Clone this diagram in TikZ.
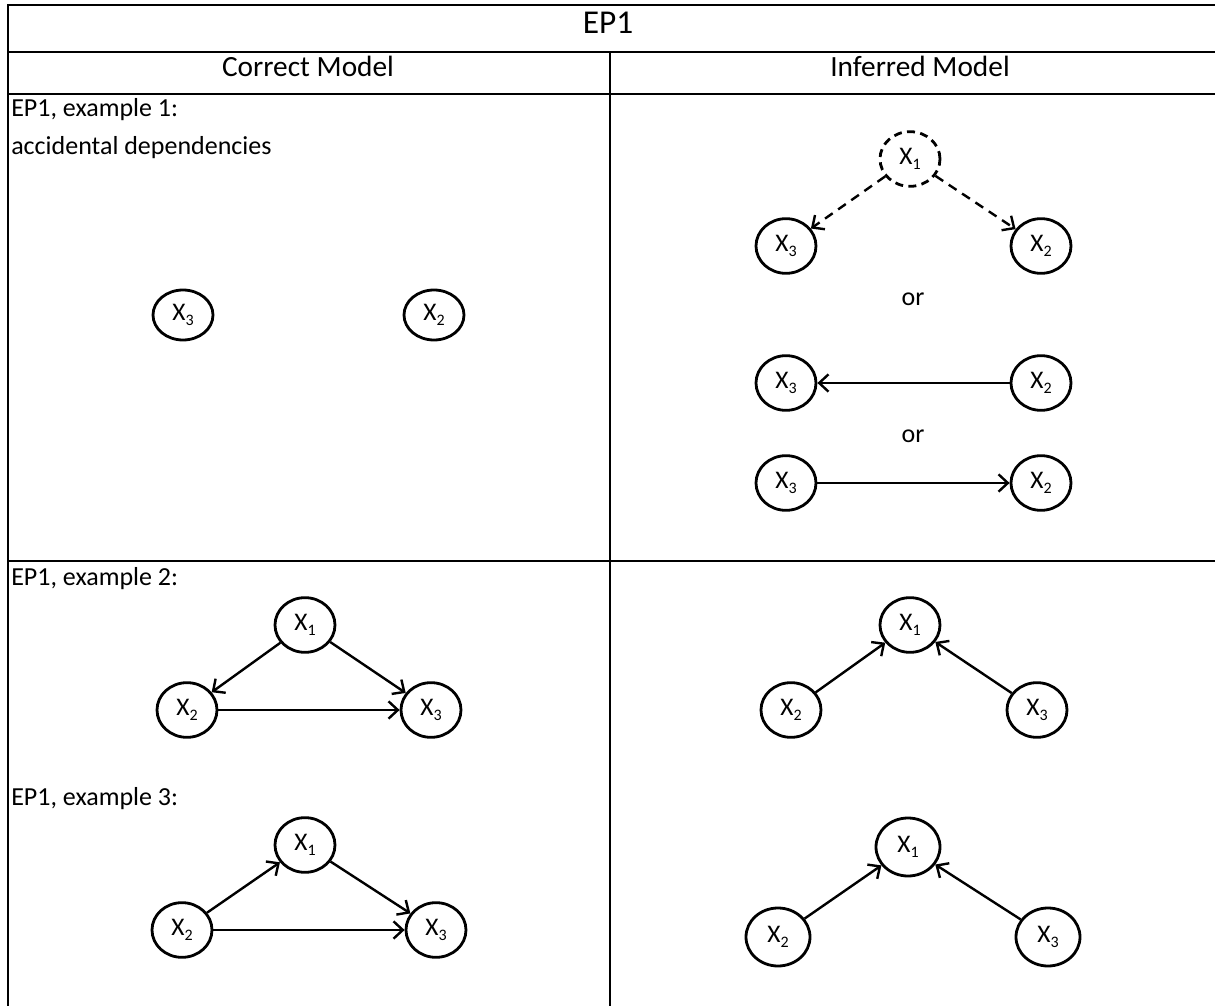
\documentclass[tikz,border=0pt]{standalone}
\usepackage{fontspec}
\setmainfont{Carlito}
\usetikzlibrary{shapes.geometric,arrows.meta}
\newcommand\xsub[1]{X\raisebox{-0.45ex}{\fontsize{12}{14}\selectfont #1}}
\begin{document}
\begin{tikzpicture}[x=0.75pt,y=-0.75pt,
 grid/.style={line width=1.5pt},
 txt/.style={inner sep=0pt, font=\fontsize{19.5}{23}\selectfont, text height=0.72em, text depth=0.22em},
 headtxt/.style={txt, font=\fontsize{22}{26}\selectfont},
 titletxt/.style={txt, font=\fontsize{25}{30}\selectfont},
 var/.style={ellipse, draw, line width=2.1pt, minimum width=45pt, minimum height=41pt, inner sep=0pt, font=\fontsize{19}{22}\selectfont},
 smallvar/.style={var, minimum height=37.5pt},
 bigvar/.style={var, minimum width=48pt, minimum height=43.5pt},
 hidvar/.style={var, dash pattern=on 6pt off 4pt},
 arr/.style={line width=1.8pt, -{Straight Barb[length=7pt,width=13pt,line width=1.8pt]}},
 darr/.style={arr, dash pattern=on 7pt off 5pt},
]
\useasboundingbox (0,0) rectangle (1215,1006);
% table grid
\draw[grid] (7.5,1007) -- (7.5,5.5) -- (1216,5.5);
\draw[grid] (7.5,52.5) -- (1216,52.5);
\draw[grid] (7.5,94.5) -- (1216,94.5);
\draw[grid] (7.5,561) -- (1216,561);
\draw[grid] (610,52.5) -- (610,1007);
% header texts
\node[titletxt] (title) at (608,30) {EP1};
\node[headtxt] (hc) at (308,73.5) {Correct Model};
\node[headtxt] (hi) at (920,73.5) {Inferred Model};
\node[txt, anchor=west] (l1) at (11,113) {EP1, example 1:};
\node[txt, anchor=west] (l1b) at (11,151) {accidental dependencies};
\node[txt, anchor=west] (l2) at (11,582) {EP1, example 2:};
\node[txt, anchor=west] (l3) at (11,802) {EP1, example 3:};
% example 1 correct
\node[smallvar] (a3) at (183,315) {\xsub{3}};
\node[smallvar] (a2) at (434,315) {\xsub{2}};
% example 1 inferred
\node[hidvar] (b1) at (910,159) {\xsub{1}};
\node[var] (b3) at (786,246) {\xsub{3}};
\node[var] (b2) at (1041,246) {\xsub{2}};
\draw[darr] (b1) -- (b3);
\draw[darr] (b1) -- (b2);
\node[txt] (or1) at (913,302) {or};
\node[var] (c3) at (786,383) {\xsub{3}};
\node[var] (c2) at (1041,383) {\xsub{2}};
\draw[arr] (c2) -- (c3);
\node[txt] (or2) at (913,439) {or};
\node[var] (d3) at (786,483) {\xsub{3}};
\node[var] (d2) at (1041,483) {\xsub{2}};
\draw[arr] (d3) -- (d2);
% example 2 correct
\node[var] (e1) at (305,625) {\xsub{1}};
\node[var] (e2) at (187,710) {\xsub{2}};
\node[var] (e3) at (431,710) {\xsub{3}};
\draw[arr] (e1) -- (e2);
\draw[arr] (e1) -- (e3);
\draw[arr] (e2) -- (e3);
% example 2 inferred
\node[var] (f1) at (910,625) {\xsub{1}};
\node[var] (f2) at (791,710) {\xsub{2}};
\node[var] (f3) at (1037,710) {\xsub{3}};
\draw[arr] (f2) -- (f1);
\draw[arr] (f3) -- (f1);
% example 3 correct
\node[var] (g1) at (305,845) {\xsub{1}};
\node[var] (g2) at (182,930) {\xsub{2}};
\node[var] (g3) at (436,930) {\xsub{3}};
\draw[arr] (g2) -- (g1);
\draw[arr] (g1) -- (g3);
\draw[arr] (g2) -- (g3);
% example 3 inferred
\node[bigvar] (h1) at (908,847) {\xsub{1}};
\node[bigvar] (h2) at (778,937) {\xsub{2}};
\node[bigvar] (h3) at (1048,937) {\xsub{3}};
\draw[arr] (h2) -- (h1);
\draw[arr] (h3) -- (h1);
\end{tikzpicture}
\end{document}
